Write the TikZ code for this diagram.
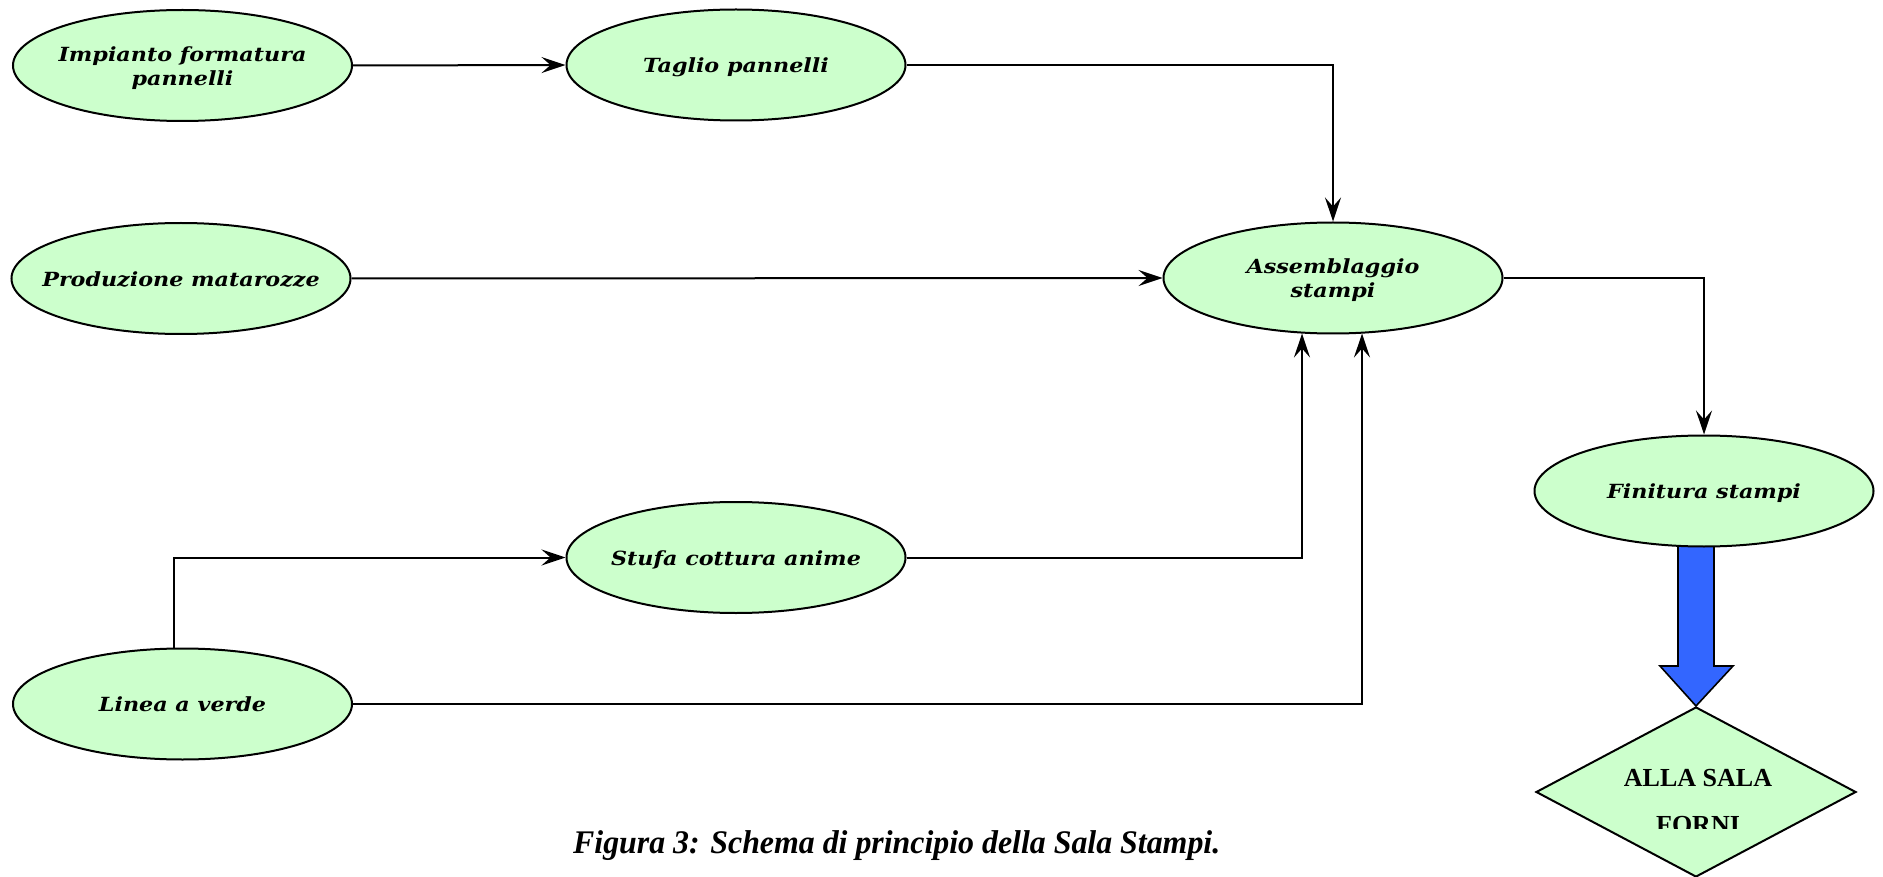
\documentclass[tikz,border=0pt]{standalone}
\usepackage{fontspec}
\usepackage{graphicx}
\usetikzlibrary{arrows.meta,shapes.geometric,calc}
\newfontfamily\lblfont[FakeStretch=1.14]{DejaVu Serif}
\newfontfamily\timesfont{Liberation Serif}
\definecolor{boxgreen}{HTML}{CCFFCC}
\definecolor{arrowblue}{HTML}{3366FF}
\newcommand\proclbl[1]{\makebox[0pt]{\raisebox{-3pt}[\height][\depth]{\begin{tabular}{@{}c@{}}#1\end{tabular}}}}
\begin{document}
\begin{tikzpicture}[x=1pt,y=-1pt,
  proc/.style={ellipse,draw=black,line width=2pt,fill=boxgreen,
    minimum width=339pt,minimum height=111pt,inner sep=0pt,
    font=\lblfont\bfseries\itshape\fontsize{19.5}{24}\selectfont},
  conn/.style={line width=2pt,-{Stealth[length=24pt,width=16pt,inset=9pt]}},
  diamtext/.style={inner sep=0pt,anchor=base,font=\timesfont\bfseries\fontsize{26}{30}\selectfont}]
\useasboundingbox (0,0) rectangle (1883,877);
\fill[white] (0,0) rectangle (1883,877);

% diamond
\node[diamond,draw=black,line width=2pt,fill=boxgreen,minimum width=320pt,minimum height=170pt,inner sep=0pt] (D) at (1696,792) {};
\node[diamtext] (Dt1) at (1698,786) {ALLA SALA};
\begin{scope}
  \clip (1500,795) rectangle (1883,828);
  \node[diamtext] (Dt2) at (1698,833) {FORNI};
\end{scope}

% blue block arrow
\draw[line width=1.6pt,fill=arrowblue,line join=miter]
  ($(D.north)+(-18,-166)$) -- ($(D.north)+(18,-166)$) -- ($(D.north)+(18,-40)$)
  -- ($(D.north)+(37,-40)$) -- (D.north) -- ($(D.north)+(-36,-40)$)
  -- ($(D.north)+(-18,-40)$) -- cycle;

% process nodes
\node[proc] (Imp) at (182.5,65.5) {\proclbl{Impianto formatura\\pannelli}};
\node[proc] (Tag) at (736,65) {\proclbl{Taglio pannelli}};
\node[proc] (Prod) at (181,278.5) {\proclbl{Produzione matarozze}};
\node[proc] (Ass) at (1333,278) {\proclbl{Assemblaggio\\stampi}};
\node[proc] (Fin) at (1704,491) {\proclbl{Finitura stampi}};
\node[proc] (Stu) at (736,557.5) {\proclbl{Stufa cottura anime}};
\node[proc] (Lin) at (182.5,704) {\proclbl{Linea a verde}};

% connectors
\draw[conn] (Imp.east) -- (Tag.west);
\draw[conn] (Tag.east) -| (Ass.north);
\draw[conn] (Prod.east) -- (Ass.west);
\draw[conn] (Ass.east) -| (Fin.north);
\draw[conn] (Stu.east) -| ($(Ass.south)+(-31,-1)$);
\draw[conn] (Lin.east) -| ($(Ass.south)+(29,-1)$);
\draw[conn] ($(Lin.north)+(-8.5,0)$) |- (Stu.west);

% caption
\node[anchor=base west,inner sep=0pt] (cap) at (573,853)
  {\resizebox{647pt}{\height}{\timesfont\bfseries\itshape\fontsize{33}{40}\selectfont Figura 3: Schema di principio della Sala Stampi.}};
\end{tikzpicture}
\end{document}
